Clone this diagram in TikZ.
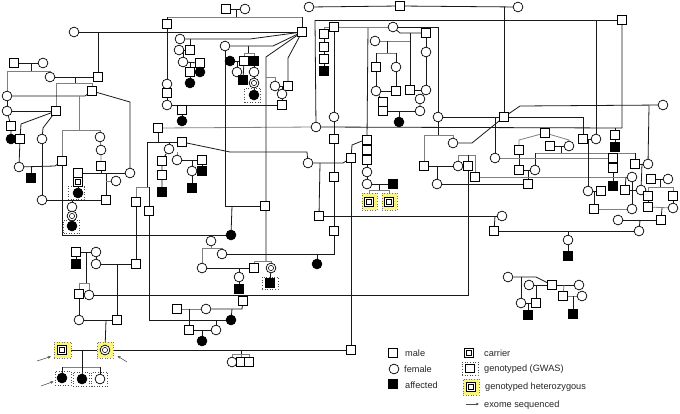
\documentclass[tikz,border=0pt]{standalone}
\usepackage{fontspec}
\setmainfont{Liberation Sans}
\usetikzlibrary{backgrounds,arrows.meta}
\definecolor{hly}{RGB}{250,245,125}
\newcommand{\pM}[3][]{\node[ml,#1] (#2) at (#3) {};}
\newcommand{\pF}[3][]{\node[fl,#1] (#2) at (#3) {};}
\begin{document}
\begin{tikzpicture}[x=1pt,y=-1pt,
  ml/.style={draw=black,fill=white,rectangle,minimum size=8.5pt,inner sep=0pt,line width=0.7pt},
  fl/.style={draw=black,fill=white,circle,minimum size=9.8pt,inner sep=0pt,line width=0.7pt},
  aff/.style={fill=black},
  carm/.style={path picture={\draw[line width=0.5pt] ([shift={(-2.3pt,-2.3pt)}]path picture bounding box.center) rectangle ([shift={(2.3pt,2.3pt)}]path picture bounding box.center); \fill (path picture bounding box.center) circle (1pt);}},
  carf/.style={path picture={\draw[line width=0.5pt] (path picture bounding box.center) circle (2.6pt); \fill (path picture bounding box.center) circle (1pt);}},
  gbox/.style={draw=black!70,dotted,line width=0.6pt,minimum width=16pt,minimum height=13pt,inner sep=0pt},
  hl/.style={fill=hly,draw=black!55,dotted,line width=0.6pt,minimum width=16pt,minimum height=16pt,inner sep=0pt},
  ln/.style={draw=black!90,line width=0.8pt},
  gl/.style={draw=black!50,line width=0.8pt},
  lt/.style={anchor=west,inner sep=0pt,text=black!85,font=\fontsize{9.2}{10}\selectfont},
  arr/.style={draw=black!70,line width=0.55pt,-{Stealth[length=3.2pt,width=2.8pt]}}
]
\useasboundingbox (0,0) rectangle (680,413);

% ---------- boxes and highlights
\node[gbox] (b1) at (76,193) {};
\node[gbox] (b2) at (71.5,226.5) {};
\node[gbox,minimum height=14pt] (b3) at (252.5,95) {};
\node[gbox,minimum height=12pt] (b4) at (270,283) {};
\node[gbox,minimum height=14pt] (b5) at (63,378) {};
\node[gbox,minimum height=14pt] (b6) at (81,379) {};
\node[gbox,minimum height=14pt] (b7) at (99.5,379) {};
\node[hl,minimum width=15pt,minimum height=17pt] (h1) at (369.5,201.5) {};
\node[hl,minimum width=15pt,minimum height=17pt] (h2) at (389.5,201.5) {};
\node[hl,minimum width=17pt] (h3) at (62.5,350) {};
\node[hl] (h4) at (105,350) {};
\node[gbox] (b8) at (470,368.5) {};
\node[hl] (h5) at (471,387) {};

% ---------- top left
\pM{m1}{226,9} \pF{f1}{245,9}
\pM{m2}{167,24} \pM{hub}{302,32} \pF{f2}{74,32}
\pM{m3}{98,77} \pF{f3}{50,77}
\pM{m6}{14,63} \pF{f4}{43,63}
\pF{f5}{7,96} \pM{m4}{92,91} \pM{m5}{56,111} \pF{f8}{7,111}
\pM{m9}{11,126} \pF[aff]{af1}{11,139}
\pM{m10}{20,139} \pF{f9}{42,139} \pF{f11}{19,167} \pM[aff]{am1}{31,178}
\pM{m7}{62,161} \pF{f6}{100,137} \pF{f7}{101,150} \pM{m8}{101,166}
\pM{m12}{78,173} \pF{f10}{130,173} \pF{f13}{116,181} \pM{m11}{106,200} \pF{f12}{42,200}
\pM[carm]{cm1}{78,182} \pF[aff]{af3}{78,193}
\pF{f14}{72,207} \pF[carf]{cf1}{72,216} \pF[aff]{af4}{72,226}
\pF[aff]{af2}{231,235}
% ---------- upper middle
\pF{f16}{167,84} \pM{m13}{167,93} \pF{f17}{167,105}
\pM{m14}{282,105} \pM{m15}{182,110} \pF[aff]{af5}{182,121}
\pM{m16}{158,128} \pF{f18}{316,127}
\pM{m18}{182,142} \pF{f19}{169,149}
\pM{m81}{162,161} \pM{m82}{162,175} \pM[aff]{am13}{162,192}
\pF{f21}{177,160} \pM{m19}{202,160} \pF{f22}{192,171} \pM[aff]{am2}{202,171} \pM[aff]{af6}{192,188}
\pF{f20}{308,163}
\pM{m20}{136,202} \pM{m21}{149,211} \pM{m22}{136,264}
\pF[aff]{af7}{231,320}
\pM{m23}{76,252} \pF{f23}{96,252} \pM[aff]{am3}{76,264} \pF{f24}{96,264}
\pM{m25}{79,294} \pF{f25}{89,295}
\pF{f26}{79,320} \pM{m24}{117,320}
\pM[carm]{cm2}{62,350} \pF[carf]{cf2}{105,350}
\pF[aff]{af8}{62,378} \pF[aff]{af9}{82,379} \pF{f27}{100,379}
\pM{m27}{351,350}
\pF{f28}{232,362} \pM{m28}{241,362} \pM{m29}{249,362}
\pM{m30}{351,158} \pM{m31}{367,140} \pM{m32}{367,150} \pM{m33}{367,160} \pF{f29}{367,172} \pF{f30}{367,184} \pM[aff]{am4}{393,184}
\pM[carm]{hz1}{369,202} \pM[carm]{hz2}{389,202}
\pM{m34}{319,216} \pF{f31}{502,216} \pM{m35}{494,231} \pF{f32}{639,231} \pF{f33}{568,240} \pM[aff]{am5}{568,256}
\pM{m36}{334,27} \pF{f34}{334,117} \pM{m37}{334,139} \pM{m38}{334,177} \pM{m39}{334,231}
\pF{f35}{222,254} \pF[aff]{af10}{317,264}
\pF{f36}{211,241} \pF{f37}{202,268} \pM{m40}{254,268} \pF[carf]{cf3}{271,268}
\pF{f38}{239,277} \pM[aff]{am6}{239,289}
\pM[aff]{am7}{270,283}
\pM{m41}{243,301} \pM{m42}{177,309} \pF{f39}{206,309} \pM{m43}{189,330} \pF{f40}{216,330} \pF[aff]{af13}{202,341}
\pF{f73}{180,39} \pF{f74}{179,50} \pM{m78}{190,50} \pF{f75}{183,62} \pM{m79}{200,63} \pM{m80}{190,72} \pF[aff]{af17}{200,72} \pF[aff]{af18}{190,83}
\pF{f70}{225,46} \pF[aff]{af15}{230,61} \pM{m77}{244,61} \pM[aff]{am11}{254,61} \pF{f71}{237,72} \pM[aff]{am12}{243,80}
\pF{f72}{254,72} \pF[carf]{cf4}{254,83} \pF[aff]{af16}{254,95}
\pF{f68}{275,86} \pM{m75}{288,86} \pF{f69}{282,94}
\pM{m76}{265,206}
% ---------- right
\pF{f41}{309,7} \pM{m44}{400,6} \pF{f42}{518,7}
\pM{m45}{324,34} \pM{m46}{324,47} \pM{m47}{324,59} \pM[aff]{am8}{324,71}
\pF{f43}{393,27} \pM{m48}{426,33} \pF{f45}{375,41} \pM{m49}{376,67} \pF{f46}{396,67}
\pF{f47}{376,91} \pM{m50}{396,91} \pM{m51}{410,90} \pF{f48}{426,52} \pF{f49}{426,90}
\pM{m52}{383,102} \pM{m53}{383,111} \pF{f50}{420,111} \pF{f51}{420,99} \pF[aff]{af14}{399,122}
\pF{f44}{438,117} \pM{hub2}{504,117} \pM{m54}{424,166} \pF{f52}{453,143}
\pF{f53}{663,105} \pF{f54}{648,164} \pM{m55}{583,139} \pF{f55}{596,139}
\pM{m17}{622,20} \pM{m56}{615,135} \pM[aff]{am9}{615,147}
\pF{f56}{495,158} \pM{m57}{545,133} \pM{m58}{519,150} \pM{m59}{519,170} \pM{m60}{550,146} \pF{f57}{569,146}
\pM{m61}{613,158} \pM{m62}{613,168} \pM[aff]{am10}{613,186}
\pF{f58}{535,170} \pM{m63}{528,184} \pF{f59}{437,184} \pF{f60}{458,166} \pM{m26}{468,166} \pM{m64}{475,177}
\pF{f61}{632,177} \pM{m65}{635,164} \pF{f62}{641,190} \pM{m66}{625,190}
\pF{f63}{588,191} \pM{m67}{601,191} \pM{m68}{594,209} \pF{f64}{632,209}
\pM{m69}{651,179} \pF{f65}{668,179} \pM{m70}{648,196} \pM{m71}{673,196} \pM{m72}{648,207} \pF{f66}{673,208}
\pF{f67}{618,220} \pM{m73}{661,220}
% ---------- bottom right family
\pF{f80}{508,277} \pF{f81}{529,285} \pM{m83}{552,285} \pF{f82}{579,285} \pF{f83}{521,303} \pM{m84}{536,303}
\pM[aff]{am14}{528,315} \pM{m85}{563,296} \pF{f84}{582,296} \pM[aff]{am15}{573,314}

% ---------- legend
\pM{lm}{393,353} \pF{lf}{394,369} \pM[aff]{la}{393,384}
\pM[carm]{lc}{469,353} \pM{lg}{470,368.5} \pM[carm]{lh}{471,387}
\node[lt] (t1) at (405,353) {male};
\node[lt] (t2) at (404,369.5) {female};
\node[lt] (t3) at (405,385) {affected};
\node[lt] (t4) at (484,353) {carrier};
\node[lt] (t5) at (484,369) {genotyped (GWAS)};
\node[lt] (t6) at (485,387) {genotyped heterozygous};
\node[lt] (t7) at (484,405) {exome sequenced};
\coordinate (la1) at (466,404); \coordinate (la2) at (479,404);
\draw[arr] (la1) -- (la2);
% exome arrows
\coordinate (e1) at (37,361); \coordinate (e1t) at (51,356.5);
\coordinate (e2) at (127,362); \coordinate (e2t) at (117.5,356);
\coordinate (e3) at (41,386); \coordinate (e3t) at (53.5,381.5);
\draw[arr] (e1) -- (e1t);
\draw[arr] (e2) -- (e2t);
\draw[arr] (e3) -- (e3t);

\begin{pgfonlayer}{background}
\fill[white] (0,0) rectangle (680,413);
% top
\draw[ln] (m1) -- (f1); \draw[ln] (236,9) -- (236,17);
\draw[gl] (167,17) -- (302,17); \draw[ln] (167,17) -- (m2); \draw[ln] (302,17) -- (hub);
\draw[ln] (f2) -- (hub); \draw[ln] (98,32) -- (m3);
\draw[ln] (f3) -- (m3); \draw[ln] (75,77) -- (75,83);
\draw[gl] (56,83) -- (92,83); \draw[gl] (56,83) -- (m5); \draw[gl] (92,83) -- (m4);
\draw[ln] (m6) -- (f4); \draw[ln] (31,63) -- (31,71);
\draw[gl] (7,71) -- (50,71); \draw[gl] (50,71) -- (f3); \draw[gl] (7,71) -- (f5);
\draw[ln] (f5) -- (85,96) -- (m4); \draw[ln] (f5) -- (f8); \draw[ln] (f8) -- (m5);
\draw[ln] (m4) -- (130,102) -- (f10);
\draw[gl] (79,96) -- (79,130); \draw[gl] (62,130) -- (100,130);
\draw[gl] (62,130) -- (m7); \draw[gl] (100,130) -- (f6);
\draw[gl] (f6) -- (f7) -- (m8); \draw[ln] (m8) -- (101,173);
\draw[ln] (f8) -- (m9) -- (af1);
\draw[ln] (m5) -- (21,124) -- (m10); \draw[ln] (m5) -- (43,128) -- (f9);
\draw[ln] (m10) -- (f11);
\draw[ln] (f11) -- (55,166) -- (m7); \draw[ln] (31,166) -- (am1);
\draw[ln] (m7) -- (62,235) -- (af2);
\draw[ln] (f9) -- (f12); \draw[ln] (f12) -- (m11);
\draw[ln] (m12) -- (f10); \draw[ln] (106,173) -- (m11); \draw[gl] (106,181) -- (f13);
\draw[ln] (m12) -- (cm1) -- (af3);
\draw[ln] (72,200) -- (f14) -- (cf1) -- (af4);
\draw[ln] (m2) -- (f16) -- (m13) -- (f17);
\draw[ln] (f17) -- (m14); \draw[ln] (182,105) -- (m15) -- (af5);
\draw[gl] (m16) -- (f18); \draw[ln] (f18) -- (622,128) -- (m17);
\draw[ln] (m16) -- (158,142); \draw[ln] (147,142) -- (m18);
\draw[ln] (169,142) -- (f19); \draw[ln] (f19) -- (m81) -- (m82) -- (am13);
\draw[ln] (m18) -- (230,152) -- (307,152) -- (f20);
\draw[ln] (f21) -- (m19); \draw[ln] (192,160) -- (f22) -- (af6); \draw[ln] (m19) -- (am2);
\draw[gl] (177,152) -- (f21);
\draw[ln] (147,142) -- (147,187); \draw[gl] (136,187) -- (149,187);
\draw[gl] (136,187) -- (m20); \draw[ln] (149,187) -- (m21);
\draw[ln] (m20) -- (m22);
\draw[ln] (m21) -- (149,320) -- (af7);
\draw[ln] (m23) -- (f23); \draw[ln] (m23) -- (am3); \draw[ln] (f23) -- (f24); \draw[ln] (f24) -- (m22);
\draw[ln] (117,264) -- (m24);
\draw[ln] (86,252) -- (86,283); \draw[gl] (79,283) -- (89,283);
\draw[gl] (79,283) -- (m25); \draw[gl] (89,283) -- (f25);
\draw[ln] (m25) -- (f26); \draw[ln] (f26) -- (m24); \draw[ln] (106,320) -- (cf2);
\draw[ln] (f25) -- (468,295) -- (m26);
\draw[ln] (cm2) -- (cf2); \draw[ln] (cf2) -- (m27);
\draw[ln] (82,350) -- (82,367); \draw[gl] (62,367) -- (100,367);
\draw[ln] (62,367) -- (af8); \draw[ln] (82,367) -- (af9); \draw[ln] (100,367) -- (f27);
\draw[ln] (241,350) -- (241,354); \draw[gl] (232,354) -- (249,354);
\draw[gl] (232,354) -- (f28); \draw[gl] (241,354) -- (m28); \draw[gl] (249,354) -- (m29);
\draw[ln] (m27) -- (m30); \draw[ln] (m30) -- (352,145) -- (362,141) -- (m31);
\draw[ln] (368,27) -- (m31); \draw[ln] (m31) -- (m32) -- (m33) -- (f29) -- (f30);
\draw[ln] (f30) -- (am4); \draw[ln] (379,184) -- (379,190); \draw[gl] (369,190) -- (389,190);
\draw[gl] (369,190) -- (hz1); \draw[gl] (389,190) -- (hz2);
\draw[ln] (f20) -- (343,163) -- (m30); \draw[ln] (320,163) -- (m34);
\draw[ln] (m34) -- (f31); \draw[ln] (495,216) -- (m35); \draw[ln] (m35) -- (f32);
\draw[ln] (568,231) -- (f33) -- (am5);
\draw[ln] (m36) -- (f34) -- (m37) -- (m38) -- (m39) -- (334,254) -- (f35);
\draw[ln] (317,254) -- (af10);
\draw[ln] (211,235) -- (f36); \draw[gl] (f36) -- (211,248); \draw[gl] (202,248) -- (222,248);
\draw[gl] (222,248) -- (f35); \draw[gl] (202,248) -- (f37);
\draw[ln] (f37) -- (m40); \draw[ln] (239,268) -- (f38) -- (am6);
\draw[ln] (hub) -- (266,57) -- (266,261); \draw[gl] (254,261) -- (271,261);
\draw[gl] (254,261) -- (m40); \draw[gl] (271,261) -- (cf3); \draw[ln] (cf3) -- (am7);
\draw[gl] (266,77) -- (275,77); \draw[gl] (275,77) -- (f68);
\draw[ln] (f68) -- (m75); \draw[ln] (282,86) -- (f69) -- (m14);
\draw[ln] (hub) -- (288,58) -- (m75);
\draw[ln] (hub) -- (250,39) -- (f73);
\draw[ln] (190,39) -- (m78); \draw[ln] (f74) -- (m78); \draw[ln] (183,50) -- (f75);
\draw[ln] (f75) -- (m79); \draw[ln] (m79) -- (af17); \draw[ln] (190,63) -- (m80) -- (af18);
\draw[ln] (hub) -- (273,46) -- (f70);
\draw[ln] (248,46) -- (248,53); \draw[gl] (244,53) -- (254,53);
\draw[gl] (244,53) -- (m77); \draw[gl] (254,53) -- (am11);
\draw[ln] (af15) -- (m77); \draw[ln] (237,61) -- (f71); \draw[ln] (m77) -- (am12);
\draw[ln] (am11) -- (f72) -- (cf4) -- (af16);
\draw[ln] (f70) -- (225,206) -- (m76); \draw[ln] (232,206) -- (af2);
\draw[ln] (f39) -- (242,309) -- (m41); \draw[ln] (232,309) -- (af7);
\draw[gl] (m42) -- (f39); \draw[ln] (189,309) -- (m43); \draw[ln] (m43) -- (f40);
\draw[ln] (202,330) -- (af13); \draw[ln] (216,320) -- (f40);
% right
\draw[ln] (f41) -- (m44) -- (f42);
\draw[ln] (315,20) -- (m17); \draw[ln] (315,20) -- (f18);
\draw[ln] (504,7) -- (hub2);
\draw[gl] (m36) -- (324,27) -- (m45); \draw[ln] (m45) -- (m46) -- (m47) -- (am8);
\draw[gl] (m36) -- (f43); \draw[ln] (f43) -- (438,27) -- (f44);
\draw[ln] (f43) -- (400,33) -- (m48);
\draw[ln] (410,33) -- (m51); \draw[gl] (f45) -- (410,41);
\draw[ln] (387,41) -- (387,53); \draw[gl] (376,53) -- (396,53);
\draw[ln] (376,53) -- (m49); \draw[ln] (396,53) -- (f46);
\draw[ln] (m49) -- (f47); \draw[ln] (f46) -- (m50); \draw[ln] (f47) -- (m50);
\draw[ln] (m48) -- (f48) -- (f49); \draw[ln] (m51) -- (f49);
\draw[ln] (f47) -- (m52) -- (m53); \draw[ln] (m53) -- (f50);
\draw[ln] (f49) -- (f51) -- (f50); \draw[ln] (399,111) -- (af14);
\draw[ln] (f44) -- (hub2); \draw[ln] (f44) -- (438,135); \draw[gl] (424,135) -- (453,135);
\draw[gl] (424,135) -- (m54); \draw[gl] (453,135) -- (f52);
\draw[ln] (f52) -- (472,143) -- (hub2);
\draw[ln] (hub2) -- (520,106) -- (f53); \draw[ln] (649,106) -- (f54);
\draw[ln] (hub2) -- (583,117) -- (m55); \draw[ln] (m55) -- (f55); \draw[ln] (596,20) -- (f55);
\draw[ln] (615,128) -- (m56) -- (am9);
\draw[ln] (495,117) -- (f56);
\draw[gl] (m57) -- (519,140) -- (m58); \draw[gl] (m57) -- (569,140) -- (f57);
\draw[ln] (m58) -- (m59);
\draw[ln] (m60) -- (f57); \draw[ln] (561,146) -- (561,153); \draw[gl] (535,153) -- (635,153);
\draw[ln] (535,153) -- (f58); \draw[ln] (635,153) -- (m65);
\draw[ln] (m59) -- (f58); \draw[ln] (528,170) -- (m63);
\draw[gl] (f56) -- (m61); \draw[ln] (m61) -- (m62) -- (am10);
\draw[ln] (m54) -- (f60); \draw[ln] (437,166) -- (f59); \draw[ln] (f59) -- (m63);
\draw[gl] (458,155) -- (475,155); \draw[gl] (458,155) -- (f60); \draw[gl] (475,155) -- (m64);
\draw[ln] (468,155) -- (m26);
\draw[gl] (m64) -- (f61);
\draw[ln] (m65) -- (f54); \draw[ln] (642,164) -- (f62);
\draw[ln] (626,177) -- (m66); \draw[ln] (m66) -- (f62);
\draw[ln] (588,139) -- (f63); \draw[ln] (f63) -- (m67); \draw[ln] (594,191) -- (m68);
\draw[gl] (m68) -- (f64); \draw[ln] (f61) -- (f64);
\draw[ln] (m69) -- (f65); \draw[ln] (660,179) -- (660,187); \draw[gl] (648,187) -- (673,187);
\draw[gl] (648,187) -- (m70); \draw[gl] (673,187) -- (m71);
\draw[ln] (m70) -- (m72); \draw[ln] (m71) -- (f66); \draw[gl] (m72) -- (f66);
\draw[ln] (662,208) -- (m73); \draw[ln] (f67) -- (m73); \draw[ln] (640,220) -- (f32);
% bottom right
\draw[ln] (f80) -- (536,277) -- (m83); \draw[ln] (521,277) -- (f83);
\draw[ln] (f81) -- (m83); \draw[ln] (536,285) -- (m84); \draw[ln] (f83) -- (m84);
\draw[ln] (528,303) -- (am14); \draw[ln] (m83) -- (f82); \draw[gl] (564,285) -- (m85);
\draw[gl] (m85) -- (f84); \draw[ln] (573,296) -- (am15);
\end{pgfonlayer}
\end{tikzpicture}
\end{document}
